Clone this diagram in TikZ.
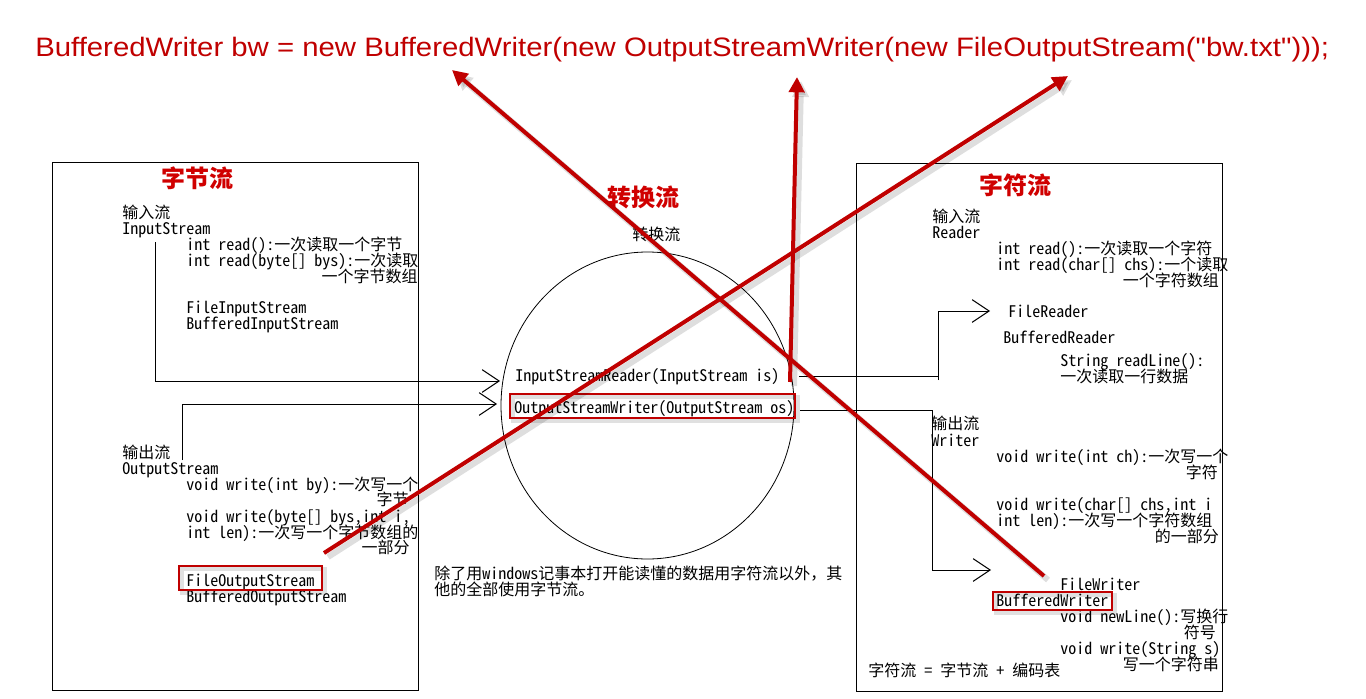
\documentclass[tikz,border=0pt]{standalone}
\usepackage{fontspec}
\setmainfont{Liberation Sans}
\newfontfamily\codefont[Ligatures=TeXOff]{Liberation Sans}
\newfontfamily\cjk{Noto Sans CJK SC}
\IfFontExistsTF{Noto Sans Mono CJK SC}{\newfontfamily\mono{Noto Sans Mono CJK SC}}{\newfontfamily\mono{Noto Sans CJK SC}}
\usetikzlibrary{arrows.meta,shapes.geometric}
\definecolor{dred}{RGB}{192,0,0}
\definecolor{tred}{RGB}{208,0,0}
\begin{document}
\begin{tikzpicture}[x=0.75pt,y=-0.75pt,
  txt/.style={font=\mono\fontsize{12pt}{14pt}\selectfont, inner sep=0pt, text height=10pt, text depth=1pt, anchor=west},
  rtxt/.style={txt, anchor=east},
  ttl/.style={font=\cjk\bfseries\fontsize{18pt}{20pt}\selectfont, text=tred, inner sep=0pt},
  ln/.style={line width=0.75pt},
  arr/.style={ln, -{Straight Barb[length=12.75pt,width=17pt]}},
  redarr/.style={line width=3pt, dred, -{Triangle[length=11.5pt,width=11.5pt]}},
  shadarr/.style={line width=4.5pt, black, opacity=0.13, -{Triangle[length=12pt,width=12pt]}},
  redbox/.style={draw=dred, line width=1.6pt},
  shadbox/.style={draw=black, opacity=0.12, line width=2.5pt},
  panel/.style={draw, line width=0.75pt, anchor=north west, minimum width=274.5pt, minimum height=396pt, inner sep=0pt}
]
\fill[white] (0,0) rectangle (1366,699);
\useasboundingbox (0,0) rectangle (1366,699);

% code line
\node[font=\codefont\fontsize{20pt}{22pt}\selectfont, text=dred, anchor=west, inner sep=0pt] (code) at (35,50)
  {\scalebox{1.1}[1]{BufferedWriter bw = new BufferedWriter(new OutputStreamWriter(new FileOutputStream("bw.txt")));}};

% panels
\node[panel] (left) at (52,162) {};
\node[panel] (right) at (856,163) {};
\node[draw, ellipse, line width=0.6pt, minimum width=219.75pt, minimum height=230.25pt, inner sep=0pt] (conv) at (647.5,405.5) {};

% left panel text
\node[ttl] (lt) at (197,178) {字节流};
\node[txt] (l1) at (122,212) {输入流};
\node[txt] (l2) at (122,228) {InputStream};
\node[txt] (l3) at (186,244) {int read():一次读取一个字节};
\node[txt] (l4) at (186,260) {int read(byte[] bys):一次读取};
\node[rtxt] (l5) at (418,276) {一个字节数组};
\node[txt] (l6) at (186,307) {FileInputStream};
\node[txt] (l7) at (186,323) {BufferedInputStream};
\node[txt] (l8) at (122,452) {输出流};
\node[txt] (l9) at (122,468) {OutputStream};
\node[txt] (l10) at (186,484) {void write(int by):一次写一个};
\node[rtxt] (l11) at (409,499) {字节};
\node[txt] (l12) at (186,516) {void write(byte[] bys,int i,};
\node[txt] (l13) at (186,532) {int len):一次写一个字节数组的};
\node[rtxt] (l14) at (410,547) {一部分};
\node[txt] (l15) at (186,580) {FileOutputStream};
\node[txt] (l16) at (186,596) {BufferedOutputStream};

% center text
\node[ttl] (ct) at (643,197) {转换流};
\node[txt] (c1) at (632,234) {转换流};
\node[txt] (c2) at (515,375) {InputStreamReader(InputStream is)};
\node[txt] (c3) at (514,407) {OutputStreamWriter(OutputStream os)};
\node[txt] (c4) at (434,573) {除了用windows记事本打开能读懂的数据用字符流以外，其};
\node[txt] (c5) at (434,589) {他的全部使用字节流。};

% right panel text
\node[ttl] (rt) at (1015,185) {字符流};
\node[txt] (r1) at (932,216) {输入流};
\node[txt] (r2) at (932,232) {Reader};
\node[txt] (r3) at (996,248) {int read():一次读取一个字符};
\node[txt] (r4) at (996,264) {int read(char[] chs):一个读取};
\node[rtxt] (r5) at (1219,280) {一个字符数组};
\node[txt] (r6) at (1008,311) {FileReader};
\node[txt] (r7) at (1003,337) {BufferedReader};
\node[txt] (r8) at (1060,360) {String readLine():};
\node[txt] (r9) at (1060,376) {一次读取一行数据};
\node[txt] (r10) at (931,423) {输出流};
\node[txt] (r11) at (931,440) {Writer};
\node[txt] (r12) at (996,456) {void write(int ch):一次写一个};
\node[rtxt] (r13) at (1218,472) {字符};
\node[txt] (r14) at (996,504) {void write(char[] chs,int i};
\node[txt] (r15) at (996,520) {int len):一次写一个字符数组};
\node[rtxt] (r16) at (1219,536) {的一部分};
\node[txt] (r17) at (1060,584) {FileWriter};
\node[txt] (r18) at (996,600) {BufferedWriter};
\node[txt] (r19) at (1060,616) {void newLine():写换行};
\node[rtxt] (r20) at (1216,632) {符号};
\node[txt] (r21) at (1060,648) {void write(String s)};
\node[rtxt] (r22) at (1219,664) {写一个字符串};
\node[txt] (r23) at (868,670) {字符流 = 字节流 + 编码表};

% black connectors
\coordinate (a1s) at (155,242); \coordinate (a1e) at (500,381);
\coordinate (a2s) at (182,460); \coordinate (a2e) at (497,404);
\coordinate (b1s) at (799,376); \coordinate (b1k) at (938,376);
\coordinate (b1m) at (938,380); \coordinate (b1e) at (990,311);
\coordinate (b2s) at (800,410); \coordinate (b2k) at (932,410);
\coordinate (b2e) at (991,570);
\draw[arr] (a1s) |- (a1e);
\draw[arr] (a2s) |- (a2e);
\draw[ln] (b1s) -- (b1k);
\draw[arr] (b1m) |- (b1e);
\draw[arr] (b2s) -- (b2k) |- (b2e);

% red boxes
\draw[shadbox] (182,569) rectangle (325,593);
\draw[redbox] (179,566) rectangle (322,590);
\draw[shadbox] (513,397) rectangle (798,421);
\draw[redbox] (510,394) rectangle (795,418);
\draw[shadbox] (996,595) rectangle (1115,613);
\draw[redbox] (993,592) rectangle (1112,610);

% red arrows
\coordinate (p1s) at (1044,576); \coordinate (p1e) at (452,70);
\coordinate (p2s) at (790,382);  \coordinate (p2e) at (797,77);
\coordinate (p3s) at (324,553);  \coordinate (p3e) at (1068,76);
\draw[shadarr] ([shift={(4,4)}]p1s) -- ([shift={(4,4)}]p1e);
\draw[shadarr] ([shift={(4,4)}]p2s) -- ([shift={(4,4)}]p2e);
\draw[shadarr] ([shift={(4,4)}]p3s) -- ([shift={(4,4)}]p3e);
\draw[redarr] (p1s) -- (p1e);
\draw[redarr] (p2s) -- (p2e);
\draw[redarr] (p3s) -- (p3e);
\end{tikzpicture}
\end{document}
